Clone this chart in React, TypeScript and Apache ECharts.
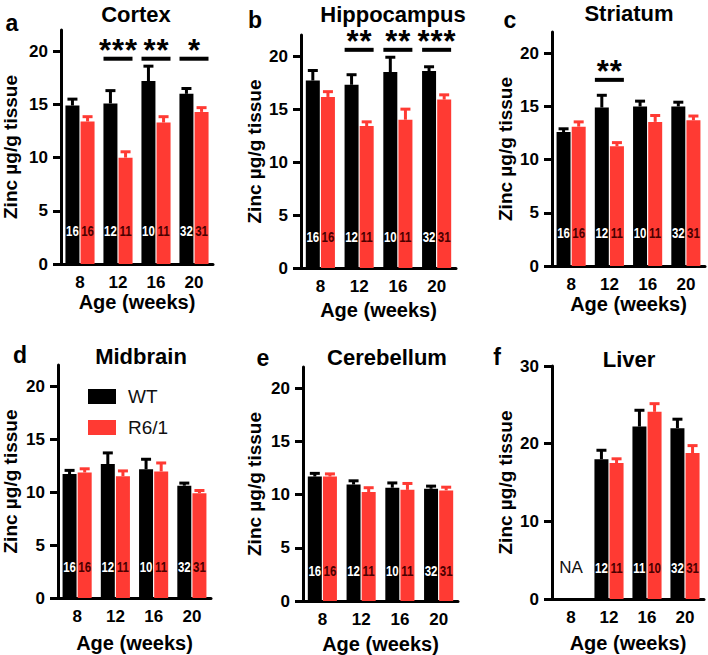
import React, { useEffect, useRef } from 'react';
import * as echarts from 'echarts';

// ---------- data ----------
const categories = ['8', '12', '16', '20'];

const cortexWT = [14.9, 15.1, 17.2, 16.0];
const cortexWTErr = [0.6, 1.2, 1.4, 0.5];
const cortexR = [13.4, 10.0, 13.3, 14.3];
const cortexRErr = [0.45, 0.55, 0.55, 0.4];

const hippoWT = [17.7, 17.3, 18.5, 18.6];
const hippoWTErr = [0.95, 0.95, 1.4, 0.4];
const hippoR = [16.15, 13.4, 14.0, 15.9];
const hippoRErr = [0.5, 0.4, 1.0, 0.45];

const striatumWT = [12.6, 14.9, 15.0, 15.0];
const striatumWTErr = [0.3, 1.15, 0.5, 0.4];
const striatumR = [13.1, 11.25, 13.55, 13.7];
const striatumRErr = [0.45, 0.35, 0.6, 0.4];

const midbrainWT = [11.7, 12.65, 12.15, 10.6];
const midbrainWTErr = [0.35, 1.05, 0.95, 0.25];
const midbrainR = [11.85, 11.5, 11.95, 9.9];
const midbrainRErr = [0.35, 0.5, 0.8, 0.25];

const cerebellumWT = [11.7, 10.95, 10.65, 10.55];
const cerebellumWTErr = [0.3, 0.35, 0.45, 0.25];
const cerebellumR = [11.7, 10.25, 10.45, 10.4];
const cerebellumRErr = [0.25, 0.4, 0.6, 0.3];

const liverWT = [null, 18.0, 22.2, 22.0];
const liverWTErr = [null, 1.15, 2.1, 1.15];
const liverR = [null, 17.5, 24.1, 18.8];
const liverRErr = [null, 0.55, 1.05, 0.95];

const nBrainWT = [16, 12, 10, 32];
const nBrainR = [16, 11, 11, 31];
const nLiverWT = [null, 12, 11, 32];
const nLiverR = [null, 11, 10, 31];

// significance: [category index, bracket y value, number of stars]
const cortexSig = [[1, 19.3, 3], [2, 19.3, 2], [3, 19.3, 1]];
const hippoSig = [[1, 20.6, 2], [2, 20.6, 2], [3, 20.6, 3]];
const striatumSig = [[1, 17.5, 2]];

const brainTicks = [0, 5, 10, 15, 20];
const liverTicks = [0, 10, 20, 30];
const naLabel = [[0, 4]];

const seriesNames = ['WT', 'R6/1'];

// ---------- styles ----------
const FONT = "'Liberation Sans', Arial, Helvetica, sans-serif";
const RED = '#ff3a33';
const BLACK = '#000000';

const panels = [
  { letter: 'a', title: 'Cortex', wt: cortexWT, wtErr: cortexWTErr, r: cortexR, rErr: cortexRErr, nWT: nBrainWT, nR: nBrainR, sig: cortexSig,
    grid: { left: 59, top: 30, width: 154, height: 234 }, max: 22, ticks: brainTicks, interval: 5, yGap: 41, xGap: 28, nPx: 33,
    letterPos: [12, 23], titlePos: [136, 14] },
  { letter: 'b', title: 'Hippocampus', wt: hippoWT, wtErr: hippoWTErr, r: hippoR, rErr: hippoRErr, nWT: nBrainWT, nR: nBrainR, sig: hippoSig,
    grid: { left: 301, top: 35, width: 155, height: 233 }, max: 22, ticks: brainTicks, interval: 5, yGap: 37, xGap: 32, nPx: 31,
    letterPos: [255, 20], titlePos: [393, 14] },
  { letter: 'c', title: 'Striatum', wt: striatumWT, wtErr: striatumWTErr, r: striatumR, rErr: striatumRErr, nWT: nBrainWT, nR: nBrainR, sig: striatumSig,
    grid: { left: 552, top: 32, width: 153, height: 234 }, max: 22, ticks: brainTicks, interval: 5, yGap: 37, xGap: 25, nPx: 33,
    letterPos: [510, 20], titlePos: [629, 13] },
  { letter: 'd', title: 'Midbrain', wt: midbrainWT, wtErr: midbrainWTErr, r: midbrainR, rErr: midbrainRErr, nWT: nBrainWT, nR: nBrainR, sig: [],
    grid: { left: 56, top: 365, width: 155, height: 233 }, max: 22, ticks: brainTicks, interval: 5, yGap: 38, xGap: 35, nPx: 31,
    letterPos: [20, 355], titlePos: [141, 356] },
  { letter: 'e', title: 'Cerebellum', wt: cerebellumWT, wtErr: cerebellumWTErr, r: cerebellumR, rErr: cerebellumRErr, nWT: nBrainWT, nR: nBrainR, sig: [],
    grid: { left: 303, top: 367, width: 155, height: 235 }, max: 22, ticks: brainTicks, interval: 5, yGap: 39, xGap: 33, nPx: 30,
    letterPos: [263, 358], titlePos: [387, 357] },
  { letter: 'f', title: 'Liver', wt: liverWT, wtErr: liverWTErr, r: liverR, rErr: liverRErr, nWT: nLiverWT, nR: nLiverR, sig: [],
    grid: { left: 552, top: 366, width: 152, height: 233 }, max: 30, ticks: liverTicks, interval: 10, yGap: 37, xGap: 34, nPx: 31,
    letterPos: [497, 357], titlePos: [629, 359] },
];

const BAR_W = 14;
const BAR_OFF = 7.56;

function errRender(offset: number, color: string) {
  return (_params: any, api: any) => {
    const c = api.value(0);
    const base = api.coord([c, api.value(1)]);
    const top = api.coord([c, api.value(2)]);
    const x = base[0] + offset;
    return {
      type: 'group',
      children: [
        { type: 'line', shape: { x1: x, y1: base[1], x2: x, y2: top[1] }, style: { stroke: color, lineWidth: 3 } },
        { type: 'line', shape: { x1: x - 5, y1: top[1], x2: x + 5, y2: top[1] }, style: { stroke: color, lineWidth: 3 } },
      ],
    };
  };
}

function nRender(offset: number, color: string, px: number) {
  return (_params: any, api: any) => {
    const c = api.value(0);
    const base = api.coord([c, 0]);
    return {
      type: 'text',
      x: base[0] + offset,
      y: base[1] - px,
      scaleX: 0.82,
      style: {
        text: String(api.value(2)),
        font: `bold 14px ${FONT}`,
        fill: color,
        textAlign: 'center',
        textVerticalAlign: 'middle',
      },
    };
  };
}

function sigRender(_params: any, api: any) {
  const c = api.value(0);
  const p = api.coord([c, api.value(1)]);
  const n = api.value(2);
  const children: any[] = [
    { type: 'line', shape: { x1: p[0] - 14.5, y1: p[1], x2: p[0] + 14.5, y2: p[1] }, style: { stroke: BLACK, lineWidth: 4 } },
  ];
  for (let k = 0; k < n; k++) {
    children.push({
      type: 'text',
      x: p[0] + (k - (n - 1) / 2) * 13,
      y: p[1] - 8,
      style: { text: '*', font: `bold 31px ${FONT}`, fill: BLACK, textAlign: 'center', textVerticalAlign: 'middle' },
    });
  }
  return { type: 'group', children };
}

function naRender(_params: any, api: any) {
  const p = api.coord([api.value(0), api.value(1)]);
  return {
    type: 'text',
    x: p[0],
    y: p[1],
    style: { text: 'NA', font: `17px ${FONT}`, fill: '#111111', textAlign: 'center', textVerticalAlign: 'middle' },
  };
}

function buildOption() {
  const grid: any[] = [];
  const xAxis: any[] = [];
  const yAxis: any[] = [];
  const series: any[] = [];
  const graphic: any[] = [];

  panels.forEach((p, i) => {
    grid.push({ ...p.grid, containLabel: false });
    xAxis.push({
      type: 'category',
      gridIndex: i,
      data: categories,
      axisLine: { lineStyle: { color: BLACK, width: 3 } },
      axisTick: { alignWithLabel: true, length: 7, lineStyle: { color: BLACK, width: 3 } },
      axisLabel: { fontSize: 17, fontWeight: 'bold', color: BLACK, margin: 10, fontFamily: FONT },
      name: 'Age (weeks)',
      nameLocation: 'middle',
      nameGap: p.xGap,
      nameTextStyle: { fontSize: 20, fontWeight: 'bold', color: BLACK, fontFamily: FONT },
    });
    yAxis.push({
      type: 'value',
      gridIndex: i,
      min: 0,
      max: p.max,
      interval: p.interval,
      splitLine: { show: false },
      axisLine: { show: true, lineStyle: { color: BLACK, width: 3 } },
      axisTick: { show: true, length: 8, lineStyle: { color: BLACK, width: 3 }, customValues: p.ticks },
      axisLabel: { fontSize: 17, fontWeight: 'bold', color: BLACK, margin: 13, fontFamily: FONT, customValues: p.ticks },
      name: 'Zinc µg/g tissue',
      nameLocation: 'middle',
      nameGap: p.yGap,
      nameTextStyle: { fontSize: 19, fontWeight: 'bold', color: BLACK, fontFamily: FONT },
    });

    series.push({
      type: 'bar',
      name: seriesNames[0],
      xAxisIndex: i,
      yAxisIndex: i,
      data: p.wt,
      barWidth: BAR_W,
      barGap: '8%',
      itemStyle: { color: BLACK },
    });
    series.push({
      type: 'bar',
      name: seriesNames[1],
      xAxisIndex: i,
      yAxisIndex: i,
      data: p.r,
      barWidth: BAR_W,
      barGap: '8%',
      itemStyle: { color: RED },
    });
    const wtErrData = p.wt
      .map((v, j) => (v == null ? null : [j, v, v + (p.wtErr[j] as number)]))
      .filter((d) => d != null);
    const rErrData = p.r
      .map((v, j) => (v == null ? null : [j, v, v + (p.rErr[j] as number)]))
      .filter((d) => d != null);
    const nWTData = p.nWT.map((n, j) => (n == null ? null : [j, 0, n])).filter((d) => d != null);
    const nRData = p.nR.map((n, j) => (n == null ? null : [j, 0, n])).filter((d) => d != null);
    series.push({
      type: 'custom', name: 'errWT' + i, xAxisIndex: i, yAxisIndex: i,
      data: wtErrData, renderItem: errRender(-BAR_OFF, BLACK), z: 3,
    });
    series.push({
      type: 'custom', name: 'errR' + i, xAxisIndex: i, yAxisIndex: i,
      data: rErrData, renderItem: errRender(BAR_OFF, RED), z: 3,
    });
    series.push({
      type: 'custom', name: 'nWT' + i, xAxisIndex: i, yAxisIndex: i,
      data: nWTData, renderItem: nRender(-BAR_OFF, '#ffffff', p.nPx), z: 4,
    });
    series.push({
      type: 'custom', name: 'nR' + i, xAxisIndex: i, yAxisIndex: i,
      data: nRData, renderItem: nRender(BAR_OFF, '#4a0000', p.nPx), z: 4,
    });
    if (p.sig.length) {
      series.push({
        type: 'custom', name: 'sig' + i, xAxisIndex: i, yAxisIndex: i,
        data: p.sig, renderItem: sigRender, z: 4,
      });
    }

    graphic.push({
      type: 'text',
      x: p.letterPos[0],
      y: p.letterPos[1],
      style: { text: p.letter, font: `bold 23px ${FONT}`, fill: BLACK, textAlign: 'center', textVerticalAlign: 'middle' },
    });
    graphic.push({
      type: 'text',
      x: p.titlePos[0],
      y: p.titlePos[1],
      style: { text: p.title, font: `bold 22px ${FONT}`, fill: BLACK, textAlign: 'center', textVerticalAlign: 'middle' },
    });
  });

  // "NA" for liver at 8 weeks
  series.push({
    type: 'custom',
    name: 'NA',
    xAxisIndex: 5,
    yAxisIndex: 5,
    data: naLabel,
    renderItem: naRender,
    z: 4,
  });

  return {
    animation: false,
    backgroundColor: '#ffffff',
    grid,
    xAxis,
    yAxis,
    series,
    graphic,
    legend: {
      data: seriesNames,
      orient: 'vertical',
      left: 83,
      top: 382,
      icon: 'rect',
      itemWidth: 28,
      itemHeight: 15,
      itemGap: 12,
      textStyle: { fontSize: 19, color: '#111111', fontFamily: FONT, padding: [0, 0, 0, 7] },
      selectedMode: false,
    },
  };
}

export default function App() {
  const ref = useRef<HTMLDivElement>(null);
  useEffect(() => {
    if (!ref.current) return;
    const chart = echarts.init(ref.current, null, { renderer: 'svg' });
    chart.setOption(buildOption() as any);
    return () => chart.dispose();
  }, []);
  return (
    <div
      ref={ref}
      style={{ position: 'absolute', left: 0, top: 0, width: 708, height: 655, background: '#fff' }}
    />
  );
}
